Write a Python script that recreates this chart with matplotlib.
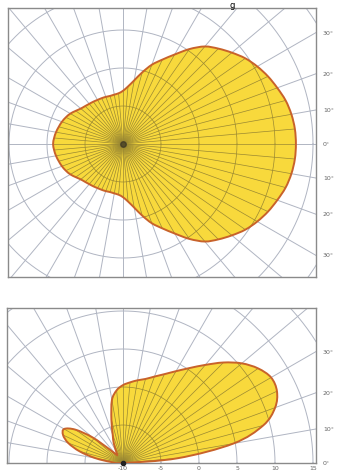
import numpy as np
import matplotlib
matplotlib.use("Agg")
import matplotlib.pyplot as plt
from matplotlib.patches import PathPatch
from matplotlib.path import Path

# top diagram: radius (grid units) every 5 deg, 0..180, mirrored below the axis
top_angles = np.arange(0, 181, 5)
top_r = [4.55, 4.54, 4.50, 4.43, 4.32, 4.21, 4.08, 3.93, 3.74, 3.55,
         3.35, 3.05, 2.72, 2.45, 2.22, 1.95, 1.70, 1.52, 1.40, 1.34,
         1.32, 1.31, 1.32, 1.33, 1.34, 1.36, 1.38, 1.41, 1.45, 1.52,
         1.60, 1.66, 1.71, 1.75, 1.79, 1.82, 1.84]

# bottom diagram: radius every 5 deg, 0..180 (upper half only)
bot_angles = np.arange(0, 181, 5)
bot_r = [0.26, 1.45, 2.95, 3.82, 4.26, 4.47, 4.50, 4.34, 4.08, 3.74,
         3.37, 3.05, 2.79, 2.58, 2.42, 2.29, 2.21, 2.13, 2.05, 1.92,
         1.68, 1.18, 0.79, 0.58, 0.37, 0.26, 0.32, 0.53, 1.05, 1.53,
         1.79, 1.74, 1.53, 1.18, 0.74, 0.32, 0.0]

top_ylabels = [30, 20, 10, 0, -10, -20, -30]
bot_ylabels = [30, 20, 10, 0]
bot_xticks = [0, 1, 2, 3, 4, 5]
bot_xlabels = ['-10', '-5', '0', '5', '10', '15']

FILL = '#f8d93c'
EDGE = '#c8622a'
GRID = '#b0b5c2'
GRID_IN = '#9a8832'
TXT = '#666666'


def smooth_path(pts):
    # closed curve through the points (catmull-rom drawn as cubic bezier)
    n = len(pts)
    verts = [pts[0]]
    codes = [Path.MOVETO]
    for i in range(n):
        p0, p1, p2, p3 = pts[i - 1], pts[i], pts[(i + 1) % n], pts[(i + 2) % n]
        verts += [p1 + (p2 - p0) / 6, p2 - (p3 - p1) / 6, p2]
        codes += [Path.CURVE4] * 3
    verts.append(pts[0])
    codes.append(Path.CLOSEPOLY)
    return Path(verts, codes)


def draw_grid(ax, color, lw, clip=None, step=10, z=0):
    th = np.linspace(0, 2 * np.pi, 361)
    for r in range(1, 9):
        ln, = ax.plot(r * np.cos(th), r * np.sin(th), color=color, lw=lw, zorder=z)
        if clip is not None:
            ln.set_clip_path(clip)
    for a in np.arange(0, 360, step):
        t = np.radians(a)
        ln, = ax.plot([0, 8 * np.cos(t)], [0, 8 * np.sin(t)], color=color, lw=lw, zorder=z)
        if clip is not None:
            ln.set_clip_path(clip)


def setup(ax, xlim, ylim, labels):
    ax.set_xlim(*xlim)
    ax.set_ylim(*ylim)
    for s in ax.spines.values():
        s.set_color('#8a8a8a')
        s.set_linewidth(1.0)
    xr = xlim[1]
    ax.yaxis.tick_right()
    ax.set_yticks([xr * np.tan(np.radians(a)) for a in labels])
    ax.set_yticklabels(['%d°' % abs(a) for a in labels])
    ax.tick_params(axis='y', length=0, pad=5, labelsize=4.5, labelcolor=TXT)


def lobe(ax, pts):
    draw_grid(ax, GRID, 0.7)
    path = smooth_path(pts)
    fill = PathPatch(path, facecolor=FILL, edgecolor='none', zorder=1)
    ax.add_patch(fill)
    draw_grid(ax, GRID_IN, 0.5, clip=fill, step=5, z=2)
    ax.add_patch(PathPatch(path, facecolor='none', edgecolor=EDGE, lw=1.4, zorder=3))


fig = plt.figure(figsize=(3.43, 4.75), dpi=100)

# ---- top
ax1 = fig.add_axes([8 / 343, 1 - 277 / 475, 308 / 343, 269 / 475])
setup(ax1, (-115 / 38, 193 / 38), (-133 / 38, 136 / 38), top_ylabels)
ax1.set_xticks([])

t = np.radians(np.concatenate([top_angles, -top_angles[::-1][1:-1]]))
r = np.concatenate([top_r, top_r[::-1][1:-1]])
lobe(ax1, np.column_stack([r * np.cos(t), r * np.sin(t)]))
ax1.plot([0], [0], 'o', color='#3a3424', ms=4, alpha=0.7, zorder=4)

# ---- bottom
ax2 = fig.add_axes([7 / 343, 1 - 463 / 475, 309 / 343, 155 / 475])
setup(ax2, (-116 / 38, 193 / 38), (0, 155 / 38), bot_ylabels)
ax2.set_xticks(bot_xticks)
ax2.set_xticklabels(bot_xlabels)
ax2.tick_params(axis='x', length=0, pad=2, labelsize=4.5, labelcolor=TXT)

t2 = np.radians(bot_angles)
r2 = np.array(bot_r)
pts2 = np.column_stack([r2 * np.cos(t2), r2 * np.sin(t2)])
lobe(ax2, np.vstack([[0, 0], pts2[1:-1]]))
ax2.plot([0], [0], 'o', color='#222222', ms=3, zorder=4, clip_on=False)

fig.text(232 / 343, 1 - 0.5 / 475, 'g', fontsize=6, ha='center', va='top')

fig.savefig('out.png', dpi=100)
